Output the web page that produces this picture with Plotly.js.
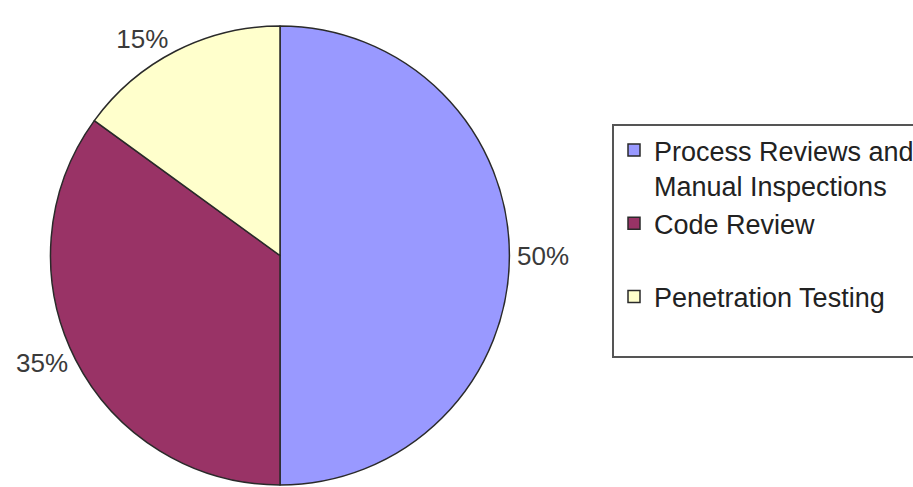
<!DOCTYPE html>
<html>
<head>
<meta charset="utf-8">
<script src="https://cdn.plot.ly/plotly-3.0.1.min.js"></script>
<style>html,body{margin:0;padding:0;background:#fff;}#chart{width:913px;height:487px;}</style>
</head>
<body>
<div id="chart"></div>
<script>
// Data
const categories = ["Process Reviews and<br>Manual Inspections", "Code Review<br> ", "Penetration Testing<br> "];
const shares = [50, 35, 15];
const sliceColors = ["#9999FF", "#993366", "#FFFFCC"];

const trace = {
  type: "pie",
  labels: categories,
  values: shares,
  sort: false,
  direction: "clockwise",
  rotation: 0,
  marker: { colors: sliceColors, line: { color: "#2a2a2a", width: 1.5 } },
  textinfo: "percent",
  texttemplate: "%{percent:.0%}",
  textposition: "outside",
  outsidetextfont: { family: "Liberation Sans, Arial, sans-serif", size: 26, color: "#3a3a3a" },
  domain: { x: [48/913, 512/913], y: [2/487, 1 - 26/487] },
  hoverinfo: "label+percent"
};

const layout = {
  width: 913,
  height: 487,
  margin: { l: 0, r: 0, t: 0, b: 0, autoexpand: false },
  paper_bgcolor: "#ffffff",
  plot_bgcolor: "#ffffff",
  showlegend: true,
  legend: {
    x: 612/913,
    xanchor: "left",
    y: 1 - 124/487,
    yanchor: "top",
    bgcolor: "#ffffff",
    bordercolor: "#555555",
    borderwidth: 2,
    valign: "top",
    font: { family: "Liberation Sans, Arial, sans-serif", size: 27, color: "#222222" }
  }
};

Plotly.newPlot("chart", [trace], layout, { staticPlot: true, displayModeBar: false });
</script>
</body>
</html>
